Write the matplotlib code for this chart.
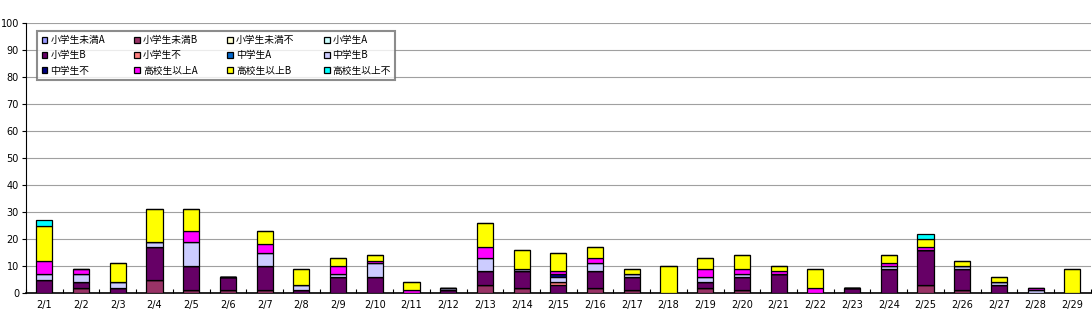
import matplotlib
matplotlib.use("Agg")
import matplotlib.pyplot as plt
import numpy as np

plt.rcParams['font.family'] = ['Noto Sans CJK JP', 'DejaVu Sans']

dates = [f"2/{d}" for d in range(1, 30)]
series_names = ["小学生未満A", "小学生未満B", "小学生未満不", "小学生A",
                "小学生B", "小学生不", "中学生A", "中学生B",
                "中学生不", "高校生以上A", "高校生以上B", "高校生以上不"]
colors = ["#9999FF", "#993366", "#FFFFCC", "#CCFFFF",
          "#660066", "#FF8080", "#0066CC", "#CCCCFF",
          "#000080", "#FF00FF", "#FFFF00", "#00FFFF"]

#                 1  2  3  4  5  6  7  8  9 10 11 12 13 14 15 16 17 18 19 20 21 22 23 24 25 26 27 28 29
s_miman_A   = [0, 0, 0, 0, 0, 0, 0, 0, 0, 0, 0, 0, 0, 0, 0, 0, 0, 0, 0, 0, 0, 0, 0, 0, 0, 0, 0, 0, 0]
s_miman_B   = [0, 2, 0, 5, 1, 1, 1, 0, 0, 0, 0, 0, 3, 2, 0, 2, 1, 0, 2, 1, 0, 0, 0, 0, 3, 1, 0, 0, 0]
s_miman_X   = [0, 0, 0, 0, 0, 0, 0, 0, 0, 0, 0, 0, 0, 0, 0, 0, 0, 0, 0, 0, 0, 0, 0, 0, 0, 0, 0, 0, 0]
s_sho_A     = [0, 0, 0, 0, 0, 0, 0, 0, 0, 0, 0, 0, 0, 0, 0, 0, 0, 0, 0, 0, 0, 0, 0, 0, 0, 0, 0, 0, 0]
s_sho_B     = [5, 2, 2, 12, 9, 5, 9, 1, 6, 6, 0, 1, 5, 6, 3, 6, 5, 0, 2, 5, 7, 0, 2, 9, 13, 8, 3, 0, 0]
s_sho_X     = [0, 0, 0, 0, 0, 0, 0, 0, 0, 0, 0, 0, 0, 0, 1, 0, 0, 0, 0, 0, 0, 0, 0, 0, 0, 0, 0, 0, 0]
s_chu_A     = [0, 0, 0, 0, 0, 0, 0, 0, 0, 0, 0, 0, 0, 0, 0, 0, 0, 0, 0, 0, 0, 0, 0, 0, 0, 0, 0, 0, 0]
s_chu_B     = [2, 3, 2, 2, 9, 0, 5, 2, 1, 5, 0, 1, 5, 1, 2, 3, 1, 0, 2, 1, 0, 0, 0, 1, 0, 1, 1, 1, 0]
s_chu_X     = [0, 0, 0, 0, 0, 0, 0, 0, 0, 0, 0, 0, 0, 0, 1, 0, 0, 0, 0, 0, 0, 0, 0, 0, 0, 0, 0, 0, 0]
s_ko_A      = [5, 2, 0, 0, 4, 0, 3, 0, 3, 1, 1, 0, 4, 0, 1, 2, 0, 0, 3, 2, 1, 2, 0, 1, 1, 0, 0, 1, 0]
s_ko_B      = [13, 0, 7, 12, 8, 0, 5, 6, 3, 2, 3, 0, 9, 7, 7, 4, 2, 10, 4, 5, 2, 7, 0, 3, 3, 2, 2, 0, 9]
s_ko_X      = [2, 0, 0, 0, 0, 0, 0, 0, 0, 0, 0, 0, 0, 0, 0, 0, 0, 0, 0, 0, 0, 0, 0, 0, 2, 0, 0, 0, 0]

series_values = [s_miman_A, s_miman_B, s_miman_X, s_sho_A, s_sho_B, s_sho_X,
                 s_chu_A, s_chu_B, s_chu_X, s_ko_A, s_ko_B, s_ko_X]

fig = plt.figure(figsize=(10.92, 3.30), dpi=100)
ax = fig.add_axes([0.0238, 0.112, 0.975, 0.818])

x = np.arange(len(dates))
bottom = np.zeros(len(dates))
handles = []
for name, vals, c in zip(series_names, series_values, colors):
    v = np.array(vals, dtype=float)
    b = ax.bar(x, v, bottom=bottom, width=0.44, color=c, edgecolor="black",
               linewidth=0.9, label=name, zorder=3)
    handles.append(b)
    bottom += v

ax.set_xlim(-0.5, len(dates) - 0.5)
ax.set_ylim(0, 100)
ax.set_yticks(np.arange(0, 101, 10))
ax.yaxis.grid(True, color="#a0a0a0", linewidth=0.8, zorder=0)
ax.set_axisbelow(True)

ax.set_xticks(x)
ax.set_xticklabels(dates, fontsize=7, family=['DejaVu Sans'])
ax.tick_params(axis='x', length=0, pad=5)
ax.set_xticks(np.arange(-0.5, len(dates), 1), minor=True)
ax.tick_params(axis='x', which='minor', length=3, direction='in', width=0.8)
ax.tick_params(axis='y', labelsize=7, length=3, width=0.8, pad=2)
for lbl in ax.get_yticklabels():
    lbl.set_family(['DejaVu Sans'])

for s in ["top", "right"]:
    ax.spines[s].set_visible(False)
ax.spines["left"].set_color("black")
ax.spines["bottom"].set_color("black")
ax.spines["bottom"].set_linewidth(1.2)

order = [0, 4, 8, 1, 5, 9, 2, 6, 10, 3, 7, 11]
leg = ax.legend([handles[i] for i in order], [series_names[i] for i in order],
                ncol=4, loc="upper left", bbox_to_anchor=(0.006, 0.99),
                fontsize=7, frameon=True, fancybox=False,
                handlelength=0.6, handleheight=0.6, handletextpad=0.3,
                columnspacing=3.0, labelspacing=0.55, borderpad=0.45)
leg.get_frame().set_edgecolor("#707070")
leg.get_frame().set_linewidth(1.5)

fig.savefig("out.png", dpi=100)
